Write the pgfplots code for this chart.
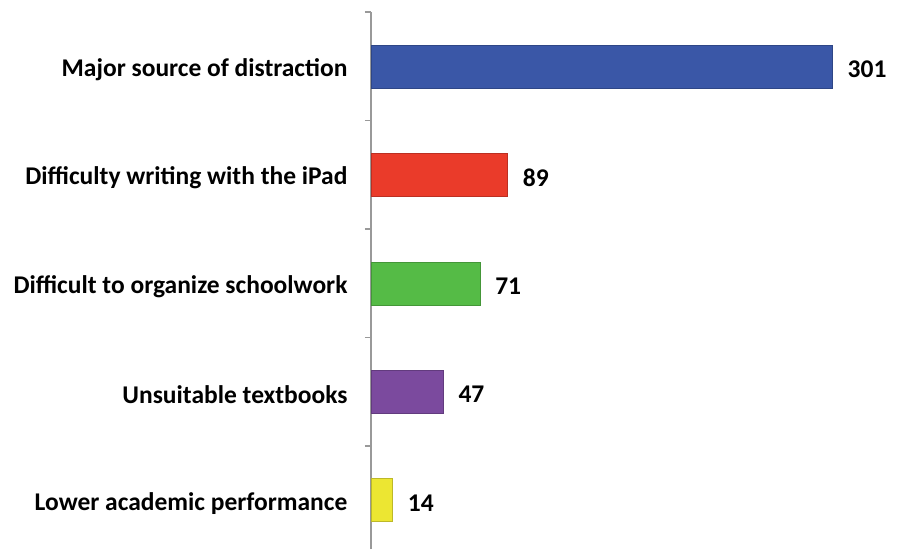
\documentclass[border=0pt]{standalone}
\usepackage{pgfplots}
\pgfplotsset{compat=1.18}
\usepackage{fontspec}
\setmainfont{Carlito}
\definecolor{cblue}{HTML}{3A57A7}
\definecolor{cred}{HTML}{EA3B2A}
\definecolor{cgreen}{HTML}{55BB46}
\definecolor{cpurple}{HTML}{7B4A9E}
\definecolor{cyellow}{HTML}{ECE632}
\begin{document}
\begin{tikzpicture}
\useasboundingbox (-371pt,0pt) rectangle (526pt,549pt);
\begin{axis}[
  at={(0pt,0pt)}, anchor=south west,
  scale only axis, width=526pt, height=537pt,
  xbar, bar width=43pt, bar shift=0pt,
  xmin=0, xmax=343.3,
  ymin=-0.45, ymax=4.5,
  axis x line=none,
  axis y line*=left,
  y axis line style={draw=gray!80, line width=1.3pt, -},
  ytick={0,1,2,3,4},
  yticklabels={Lower academic performance, Unsuitable textbooks, Difficult to organize schoolwork, Difficulty writing with the iPad, Major source of distraction},
  major tick length=0pt,
  minor ytick={0.5,1.5,2.5,3.5,4.5},
  minor tick length=6pt,
  minor tick style={draw=gray!80, line width=1.3pt},
  tick align=outside,
  /pgf/number format/assume math mode=true,
  yticklabel style={font=\bfseries\fontsize{25.5}{30}\selectfont, anchor=east, xshift=-20pt, yshift=-3pt},
  nodes near coords,
  every node near coord/.append style={font=\bfseries\fontsize{25.5}{30}\selectfont, text=black, xshift=12pt, yshift=-3pt},
  clip=false,
]
\addplot[draw=cyellow!80!black, fill=cyellow] coordinates {(14,0)};
\addplot[draw=cpurple!80!black, fill=cpurple] coordinates {(47,1)};
\addplot[draw=cgreen!80!black, fill=cgreen] coordinates {(71,2)};
\addplot[draw=cred!80!black, fill=cred] coordinates {(89,3)};
\addplot[draw=cblue!80!black, fill=cblue] coordinates {(301,4)};
\end{axis}
\end{tikzpicture}
\end{document}
